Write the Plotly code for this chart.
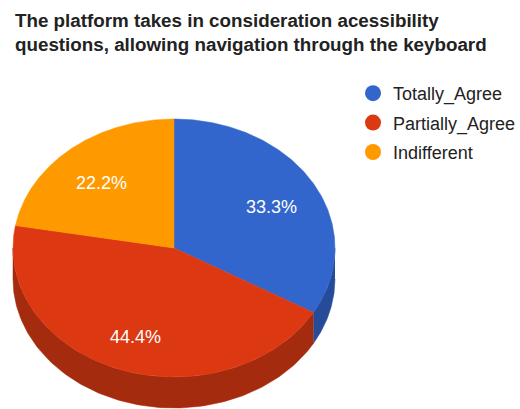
import numpy as np
import plotly.graph_objects as go

# Survey answers
categories = ["Totally_Agree", "Partially_Agree", "Indifferent"]
counts = [3, 4, 2]
colors = ["#3366CC", "#DC3912", "#FF9900"]
side_colors = ["#264C99", "#A52B0E", "#BF7300"]
title_text = ("<b>The platform takes in consideration acessibility<br>"
              "questions, allowing navigation through the keyboard</b>")

W, H = 520, 409
FONT = "Liberation Sans, Arial, sans-serif"
# Tilted pie geometry in pixel space
CX, CY, RX, RY, DEPTH = 174, 248, 161, 129, 31
LABEL_R = 0.70

total = float(sum(counts))
fracs = [c / total for c in counts]
bounds = np.concatenate([[0.0], np.cumsum(fracs)]) * 360.0  # clockwise from 12 o'clock


def ell(theta_deg, dy=0.0):
    t = np.radians(theta_deg)
    return CX + RX * np.sin(t), CY - RY * np.cos(t) + dy


fig = go.Figure()

# Side walls (only the front half, 90..270 deg, is visible)
for i in range(len(counts)):
    a0, a1 = max(bounds[i], 90.0), min(bounds[i + 1], 270.0)
    if a1 <= a0:
        continue
    th = np.linspace(a0, a1, 120)
    xt, yt = ell(th)
    xb, yb = ell(th[::-1], DEPTH)
    fig.add_trace(go.Scatter(
        x=np.concatenate([xt, xb]), y=np.concatenate([yt, yb]),
        fill="toself", mode="lines", line=dict(width=0.5, color=side_colors[i]),
        fillcolor=side_colors[i], hoverinfo="skip", showlegend=False))

# Top faces
for i in range(len(counts)):
    th = np.linspace(bounds[i], bounds[i + 1], 200)
    xa, ya = ell(th)
    fig.add_trace(go.Scatter(
        x=np.concatenate([[CX], xa, [CX]]), y=np.concatenate([[CY], ya, [CY]]),
        fill="toself", mode="lines", line=dict(width=0.5, color=colors[i]),
        fillcolor=colors[i], name=categories[i], hoverinfo="name",
        showlegend=False))

# Percentage labels at each slice's mid angle
mids = (bounds[:-1] + bounds[1:]) / 2
t = np.radians(mids)
lx = CX + LABEL_R * RX * np.sin(t)
ly = CY - LABEL_R * RY * np.cos(t)
for x, y, f in zip(lx, ly, fracs):
    fig.add_annotation(
        x=x, y=y, xref="x", yref="y", text=f"{f * 100:.1f}%", showarrow=False,
        yshift=-4, font=dict(family=FONT, size=18, color="white"))

# Legend entries
for i in range(len(counts)):
    fig.add_trace(go.Scatter(
        x=[None], y=[None], mode="markers", name=categories[i],
        legendgroup=categories[i],
        marker=dict(size=18, color=colors[i], symbol="circle"),
        showlegend=True))

fig.add_annotation(
    text=title_text, xref="paper", yref="paper",
    x=13 / W, y=1 - 8 / H, xanchor="left", yanchor="top", align="left",
    showarrow=False, font=dict(family=FONT, size=18.8, color="#222222"))

fig.update_layout(
    width=W, height=H,
    margin=dict(l=0, r=0, t=0, b=0, autoexpand=False),
    paper_bgcolor="white", plot_bgcolor="white",
    xaxis=dict(range=[0, W], visible=False, fixedrange=True),
    yaxis=dict(range=[H, 0], visible=False, fixedrange=True),
    legend=dict(x=353 / W, y=1 - 75 / H, xanchor="left", yanchor="top",
                font=dict(family=FONT, size=18, color="#222222"),
                itemsizing="trace", tracegroupgap=3, bgcolor="rgba(0,0,0,0)"),
    showlegend=True,
)

fig.write_html("out.html")
